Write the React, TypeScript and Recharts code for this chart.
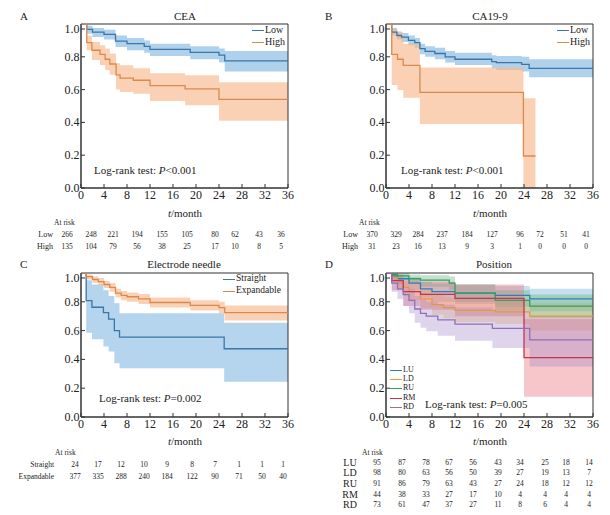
import React from "react";
import {
  Area,
  ComposedChart,
  Line,
  ReferenceArea,
  XAxis,
  YAxis,
} from "recharts";

// ---- data ----
const xTicks = [0, 4, 8, 12, 16, 20, 24, 28, 32, 36];
const yTicks = [0, 0.2, 0.4, 0.6, 0.8, 1.0];

// A: CEA
const ceaLowT = [0, 1, 2, 4, 6, 8, 11, 12, 19, 24, 25];
const ceaLowS = [1, 0.967, 0.95, 0.937, 0.896, 0.88, 0.864, 0.845, 0.827, 0.81, 0.775];
const ceaLowLo = [1, 0.94, 0.92, 0.905, 0.86, 0.84, 0.825, 0.805, 0.785, 0.765, 0.71];
const ceaLowHi = [1, 0.99, 0.975, 0.965, 0.93, 0.915, 0.9, 0.88, 0.865, 0.85, 0.835];
const ceaHighT = [0, 1, 1.9, 3.3, 4.2, 5, 6.1, 6.8, 9.1, 12, 18.1, 24];
const ceaHighS = [1, 0.886, 0.84, 0.815, 0.785, 0.756, 0.69, 0.67, 0.657, 0.624, 0.605, 0.54];
const ceaHighLo = [1, 0.84, 0.78, 0.75, 0.72, 0.69, 0.6, 0.585, 0.575, 0.53, 0.505, 0.41];
const ceaHighHi = [1, 0.93, 0.89, 0.87, 0.85, 0.82, 0.76, 0.748, 0.73, 0.7, 0.688, 0.645];

// B: CA19-9
const caLowT = [0, 1, 1.9, 2.7, 3.9, 5, 5.9, 6.8, 8.5, 10.3, 12, 18.4, 19.2, 23.6, 24.9];
const caLowS = [1, 0.951, 0.93, 0.92, 0.9, 0.886, 0.85, 0.833, 0.82, 0.8, 0.785, 0.77, 0.764, 0.754, 0.73];
const caLowLo = [1, 0.93, 0.905, 0.89, 0.87, 0.855, 0.815, 0.8, 0.785, 0.765, 0.75, 0.73, 0.72, 0.71, 0.675];
const caLowHi = [1, 0.975, 0.955, 0.945, 0.93, 0.915, 0.88, 0.865, 0.855, 0.835, 0.825, 0.81, 0.805, 0.8, 0.785];
const caHighT = [0, 1, 2, 3, 5.9, 23.9];
const caHighS = [1, 0.815, 0.785, 0.748, 0.583, 0.195];
const caHighLo = [1, 0.628, 0.598, 0.55, 0.39, 0];
const caHighHi = [1, 0.97, 0.95, 0.88, 0.734, 0.547];

// C: Electrode needle
const stT = [0, 0.9, 1.9, 3.9, 4.8, 5.8, 6.7, 24.9];
const stS = [1, 0.808, 0.762, 0.725, 0.68, 0.6, 0.554, 0.474];
const stLo = [1, 0.585, 0.54, 0.49, 0.455, 0.373, 0.338, 0.245];
const stHi = [1, 0.95, 0.92, 0.88, 0.84, 0.79, 0.72, 0.655];
const exT = [0, 0.9, 2, 3, 4, 5, 6, 7, 8, 10, 12, 19, 24, 25];
const exS = [1, 0.975, 0.955, 0.94, 0.92, 0.9, 0.86, 0.845, 0.835, 0.82, 0.795, 0.775, 0.76, 0.725];
const exLo = [1, 0.955, 0.93, 0.915, 0.895, 0.87, 0.83, 0.81, 0.8, 0.785, 0.76, 0.74, 0.72, 0.67];
const exHi = [1, 0.99, 0.975, 0.965, 0.945, 0.93, 0.89, 0.875, 0.865, 0.855, 0.83, 0.81, 0.8, 0.775];

// D: Position
const luT = [0, 1, 2, 4, 6, 8, 12, 19, 25];
const luS = [1, 0.98, 0.96, 0.93, 0.89, 0.87, 0.86, 0.845, 0.82];
const luLo = [1, 0.95, 0.92, 0.88, 0.83, 0.8, 0.785, 0.765, 0.735];
const luHi = [1, 1, 0.99, 0.97, 0.94, 0.925, 0.92, 0.91, 0.89];
const ldT = [0, 1, 2, 3, 4, 6, 8, 10, 12, 19, 25];
const ldS = [1, 0.97, 0.93, 0.9, 0.87, 0.82, 0.78, 0.76, 0.74, 0.73, 0.7];
const ldLo = [1, 0.935, 0.88, 0.845, 0.81, 0.755, 0.71, 0.685, 0.66, 0.645, 0.6];
const ldHi = [1, 0.995, 0.97, 0.945, 0.925, 0.88, 0.845, 0.83, 0.815, 0.81, 0.79];
const ruT = [0, 1, 2, 4, 6, 11, 12, 19, 25];
const ruS = [1, 0.99, 0.98, 0.96, 0.95, 0.93, 0.86, 0.81, 0.77];
const ruLo = [1, 0.97, 0.95, 0.925, 0.905, 0.88, 0.8, 0.74, 0.69];
const ruHi = [1, 1, 1, 0.99, 0.985, 0.975, 0.92, 0.88, 0.85];
const rmT = [0, 1, 3, 6, 12, 24];
const rmS = [1, 0.947, 0.87, 0.852, 0.824, 0.412];
const rmLo = [1, 0.88, 0.77, 0.745, 0.7, 0.14];
const rmHi = [1, 0.99, 0.95, 0.94, 0.92, 0.68];
const rdT = [0, 1, 2, 3, 4, 5, 6, 7, 9, 12, 18.5, 25];
const rdS = [1, 0.93, 0.89, 0.85, 0.81, 0.75, 0.72, 0.7, 0.675, 0.645, 0.615, 0.535];
const rdLo = [1, 0.87, 0.82, 0.77, 0.72, 0.655, 0.62, 0.595, 0.565, 0.53, 0.48, 0.35];
const rdHi = [1, 0.98, 0.95, 0.92, 0.89, 0.84, 0.815, 0.8, 0.78, 0.76, 0.74, 0.7];

// numbers at risk
const riskCeaLow = [266, 248, 221, 194, 155, 105, 80, 62, 43, 36];
const riskCeaHigh = [135, 104, 79, 56, 38, 25, 17, 10, 8, 5];
const riskCaLow = [370, 329, 284, 237, 184, 127, 96, 72, 51, 41];
const riskCaHigh = [31, 23, 16, 13, 9, 3, 1, 0, 0, 0];
const riskStraight = [24, 17, 12, 10, 9, 8, 7, 1, 1, 1];
const riskExpandable = [377, 335, 288, 240, 184, 122, 90, 71, 50, 40];
const riskLU = [95, 87, 78, 67, 56, 43, 34, 25, 18, 14];
const riskLD = [98, 80, 63, 56, 50, 39, 27, 19, 13, 7];
const riskRU = [91, 86, 79, 63, 43, 27, 24, 18, 12, 12];
const riskRM = [44, 38, 33, 27, 17, 10, 4, 4, 4, 4];
const riskRD = [73, 61, 47, 37, 27, 11, 8, 6, 4, 4];

// ---- helpers ----
const FONT = "'Liberation Serif', 'DejaVu Serif', serif";
const PW = 207;
const YW = 30;
const XH = 16;

type Series = {
  key: string;
  name: string;
  t: number[];
  s: number[];
  lo: number[];
  hi: number[];
  end?: number;
  line: string;
  band: string;
  bandOpacity: number;
};

function buildRows(series: Series[]) {
  const set = new Set<number>([36]);
  series.forEach((s) => {
    s.t.forEach((t) => set.add(t));
    if (s.end !== undefined) set.add(s.end);
  });
  const times = Array.from(set).sort((a, b) => a - b);
  return times.map((t) => {
    const row: Record<string, unknown> = { t };
    series.forEach((s) => {
      const end = s.end ?? 36;
      let i = 0;
      while (i + 1 < s.t.length && s.t[i + 1] <= t) i++;
      if (t > end) {
        row[s.key] = null;
        row[s.key + "Band"] = null;
      } else {
        row[s.key] = s.s[i];
        row[s.key + "Band"] = [s.lo[i], s.hi[i]];
      }
    });
    return row;
  });
}

// eslint-disable-next-line @typescript-eslint/no-explicit-any
function XTick(props: any) {
  const { x, y, payload } = props;
  return (
    <g>
      <line x1={x} x2={x} y1={y} y2={y - 4} stroke="#333" />
      <text x={x} y={y + 11} textAnchor="middle" fontSize={12} fontFamily={FONT} fill="#222">
        {payload.value}
      </text>
    </g>
  );
}

// eslint-disable-next-line @typescript-eslint/no-explicit-any
function YTick(props: any) {
  const { x, y, payload } = props;
  return (
    <g>
      <line x1={x} x2={x + 4} y1={y} y2={y} stroke="#333" />
      <text x={x - 1.5} y={y + 4} textAnchor="end" fontSize={12} fontFamily={FONT} fill="#222">
        {Number(payload.value).toFixed(1)}
      </text>
    </g>
  );
}

type TxtProps = {
  x: number;
  y: number;
  size: number;
  align?: "left" | "center" | "right";
  children: React.ReactNode;
};

function Txt({ x, y, size, align = "left", children }: TxtProps) {
  const tx = align === "left" ? "0" : align === "center" ? "-50%" : "-100%";
  return (
    <div
      style={{
        position: "absolute",
        left: x,
        top: y,
        transform: `translate(${tx}, -50%)`,
        fontSize: size,
        fontFamily: FONT,
        color: "#222",
        lineHeight: 1,
        whiteSpace: "nowrap",
      }}
    >
      {children}
    </div>
  );
}

type PanelProps = {
  left: number;
  top: number;
  height: number;
  series: Series[];
};

function KMPlot({ left, top, height, series }: PanelProps) {
  const rows = buildRows(series);
  return (
    <div style={{ position: "absolute", left: left - YW, top: top - 4 }}>
      <ComposedChart
        width={YW + PW + 10}
        height={4 + height + XH}
        data={rows}
        margin={{ top: 4, right: 10, bottom: 0, left: 0 }}
      >
        <XAxis
          dataKey="t"
          type="number"
          domain={[0, 36]}
          ticks={xTicks}
          height={XH}
          tickSize={0}
          tickMargin={0}
          tick={<XTick />}
          axisLine={{ stroke: "#333" }}
          allowDataOverflow
        />
        <YAxis
          type="number"
          domain={[0, 1]}
          ticks={yTicks}
          width={YW}
          tickSize={0}
          tickMargin={0}
          tick={<YTick />}
          axisLine={{ stroke: "#333" }}
          allowDataOverflow
        />
        {series.map((s) => (
          <Area
            key={s.key + "Band"}
            dataKey={s.key + "Band"}
            type="stepAfter"
            stroke="none"
            fill={s.band}
            fillOpacity={s.bandOpacity}
            isAnimationActive={false}
            activeDot={false}
          />
        ))}
        {series.map((s) => (
          <Line
            key={s.key}
            dataKey={s.key}
            type="stepAfter"
            stroke={s.line}
            strokeWidth={1.3}
            dot={false}
            activeDot={false}
            isAnimationActive={false}
          />
        ))}
        <ReferenceArea x1={0} x2={36} y1={0} y2={1} fill="none" stroke="#333" strokeWidth={1} />
      </ComposedChart>
    </div>
  );
}

const BLUE = "#3a76a8";
const BLUE_BAND = "#8dbde3";
const ORANGE = "#d98a4e";
const ORANGE_BAND = "#f7b88c";

const seriesA: Series[] = [
  { key: "low", name: "Low", t: ceaLowT, s: ceaLowS, lo: ceaLowLo, hi: ceaLowHi, line: BLUE, band: BLUE_BAND, bandOpacity: 0.7 },
  { key: "high", name: "High", t: ceaHighT, s: ceaHighS, lo: ceaHighLo, hi: ceaHighHi, line: ORANGE, band: ORANGE_BAND, bandOpacity: 0.65 },
];
const seriesB: Series[] = [
  { key: "low", name: "Low", t: caLowT, s: caLowS, lo: caLowLo, hi: caLowHi, line: BLUE, band: BLUE_BAND, bandOpacity: 0.7 },
  { key: "high", name: "High", t: caHighT, s: caHighS, lo: caHighLo, hi: caHighHi, end: 26, line: ORANGE, band: ORANGE_BAND, bandOpacity: 0.65 },
];
const seriesC: Series[] = [
  { key: "st", name: "Straight", t: stT, s: stS, lo: stLo, hi: stHi, line: BLUE, band: BLUE_BAND, bandOpacity: 0.65 },
  { key: "ex", name: "Expandable", t: exT, s: exS, lo: exLo, hi: exHi, line: ORANGE, band: ORANGE_BAND, bandOpacity: 0.65 },
];
const seriesD: Series[] = [
  { key: "lu", name: "LU", t: luT, s: luS, lo: luLo, hi: luHi, line: "#2d82ad", band: "#5aa8d0", bandOpacity: 0.35 },
  { key: "ld", name: "LD", t: ldT, s: ldS, lo: ldLo, hi: ldHi, line: "#e09a45", band: "#f0b060", bandOpacity: 0.35 },
  { key: "ru", name: "RU", t: ruT, s: ruS, lo: ruLo, hi: ruHi, line: "#3b9a62", band: "#55b070", bandOpacity: 0.35 },
  { key: "rm", name: "RM", t: rmT, s: rmS, lo: rmLo, hi: rmHi, line: "#c0354f", band: "#e8707e", bandOpacity: 0.4 },
  { key: "rd", name: "RD", t: rdT, s: rdS, lo: rdLo, hi: rdHi, line: "#8f70b4", band: "#a088c8", bandOpacity: 0.35 },
];

const colA = [67, 91, 113, 137, 162, 187, 215, 235, 259, 281];
const colC = [75, 98, 121, 144, 167, 192, 215, 239, 262, 283];
const colD = [377, 402, 426, 449, 473, 498, 520, 545, 566, 589];

function RiskRow({ label, values, cols, y, labelX, labelSize, size, labelAlign = "right" }: {
  label: string; values: number[]; cols: number[]; y: number; labelX: number;
  labelSize: number; size: number; labelAlign?: "left" | "center" | "right";
}) {
  return (
    <>
      <Txt x={labelX} y={y} size={labelSize} align={labelAlign}>{label}</Txt>
      {values.map((v, i) => (
        <Txt key={i} x={cols[i]} y={y} size={size} align="center">{v}</Txt>
      ))}
    </>
  );
}

function Legend({ items, x, y, step, size }: { items: Series[]; x: number; y: number; step: number; size: number }) {
  return (
    <>
      {items.map((s, i) => (
        <React.Fragment key={s.key}>
          <div style={{ position: "absolute", left: x, top: y + i * step, width: 12, height: 0, borderTop: `1.3px solid ${s.line}` }} />
          <Txt x={x + 13} y={y + i * step} size={size}>{s.name}</Txt>
        </React.Fragment>
      ))}
    </>
  );
}

function LogRank({ x, y, text }: { x: number; y: number; text: string }) {
  return (
    <Txt x={x} y={y} size={11}>
      Log-rank test: <i>P</i>{text}
    </Txt>
  );
}

function TMonth({ x, y }: { x: number; y: number }) {
  return (
    <Txt x={x} y={y} size={11} align="center">
      <i>t</i>/month
    </Txt>
  );
}

export default function App() {
  return (
    <div style={{ position: "absolute", left: 0, top: 0, width: 610, height: 515, background: "#fff", overflow: "hidden" }}>
      {/* A */}
      <Txt x={20} y={16} size={11}>A</Txt>
      <Txt x={185} y={16} size={11} align="center">CEA</Txt>
      <KMPlot left={81} top={24} height={164} series={seriesA} />
      <Legend items={seriesA} x={252} y={30} step={12} size={10} />
      <LogRank x={94} y={170} text="<0.001" />
      <TMonth x={185} y={213} />
      <Txt x={54} y={223} size={7.5}>At risk</Txt>
      <RiskRow label="Low" values={riskCeaLow} cols={colA} y={235} labelX={53} labelSize={8} size={7.5} />
      <RiskRow label="High" values={riskCeaHigh} cols={colA} y={247} labelX={53} labelSize={8} size={7.5} />

      {/* B */}
      <Txt x={325} y={16} size={11}>B</Txt>
      <Txt x={490} y={16} size={11} align="center">CA19-9</Txt>
      <KMPlot left={386} top={24} height={164} series={seriesB} />
      <Legend items={seriesB} x={557} y={30} step={12} size={10} />
      <LogRank x={401} y={170} text="<0.001" />
      <TMonth x={490} y={213} />
      <Txt x={359} y={223} size={7.5}>At risk</Txt>
      <RiskRow label="Low" values={riskCaLow} cols={colA.map((c) => c + 305)} y={235} labelX={358} labelSize={8} size={7.5} />
      <RiskRow label="High" values={riskCaHigh} cols={colA.map((c) => c + 305)} y={247} labelX={358} labelSize={8} size={7.5} />

      {/* C */}
      <Txt x={20} y={264} size={11}>C</Txt>
      <Txt x={184} y={264} size={11} align="center">Electrode needle</Txt>
      <KMPlot left={81} top={273} height={144} series={seriesC} />
      <Legend items={seriesC} x={223} y={279} step={11.5} size={9.5} />
      <LogRank x={99} y={398} text="=0.002" />
      <TMonth x={185} y={441} />
      <Txt x={55} y={453} size={7.5}>At risk</Txt>
      <RiskRow label="Straight" values={riskStraight} cols={colC} y={465} labelX={54} labelSize={7.5} size={7.5} />
      <RiskRow label="Expandable" values={riskExpandable} cols={colC} y={477} labelX={54} labelSize={7.5} size={7.5} />

      {/* D */}
      <Txt x={325} y={264} size={11}>D</Txt>
      <Txt x={494} y={264} size={11} align="center">Position</Txt>
      <KMPlot left={386} top={273} height={144} series={seriesD} />
      <Legend items={seriesD} x={390} y={370} step={9.2} size={8} />
      <LogRank x={425} y={404} text="=0.005" />
      <TMonth x={490} y={441} />
      <Txt x={362} y={453} size={7.5}>At risk</Txt>
      <RiskRow label="LU" values={riskLU} cols={colD} y={463} labelX={350} labelSize={10} size={7.5} labelAlign="center" />
      <RiskRow label="LD" values={riskLD} cols={colD} y={473} labelX={350} labelSize={10} size={7.5} labelAlign="center" />
      <RiskRow label="RU" values={riskRU} cols={colD} y={484} labelX={350} labelSize={10} size={7.5} labelAlign="center" />
      <RiskRow label="RM" values={riskRM} cols={colD} y={495} labelX={350} labelSize={10} size={7.5} labelAlign="center" />
      <RiskRow label="RD" values={riskRD} cols={colD} y={505} labelX={350} labelSize={10} size={7.5} labelAlign="center" />
    </div>
  );
}
